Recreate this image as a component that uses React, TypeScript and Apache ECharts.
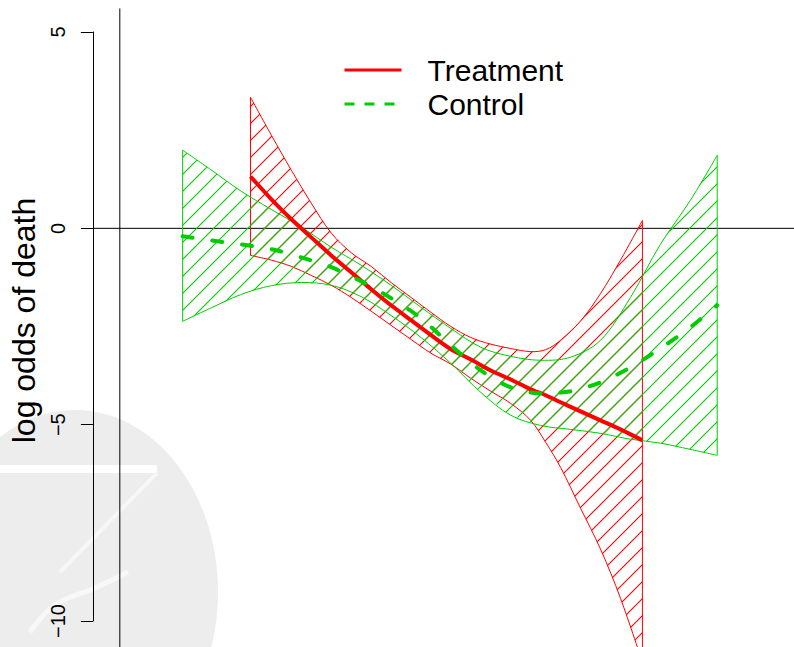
import React, { useEffect, useRef } from "react";
import * as echarts from "echarts";

// ---- data (x in arbitrary covariate units, y in log odds) ----
const treatX = [13.1, 15.2, 17.2, 19.2, 21.2, 23.2, 25.2, 27.2, 29.2, 31.2, 33.2, 35.2, 37.2, 39.2, 41.2, 42.7, 44.2, 46.2, 48.2, 50.2, 52.4];
const treatFit = [1.32, 0.74, 0.23, -0.23, -0.69, -1.12, -1.55, -1.96, -2.34, -2.72, -3.08, -3.34, -3.62, -3.85, -4.10, -4.25, -4.43, -4.66, -4.89, -5.12, -5.40];
const treatUpper = [3.34, 2.37, 1.48, 0.64, -0.12, -0.62, -0.97, -1.38, -1.76, -2.14, -2.50, -2.78, -2.95, -3.06, -3.14, -3.09, -2.85, -2.36, -1.66, -0.81, 0.20];
const treatLower = [-0.69, -0.81, -0.97, -1.20, -1.45, -1.76, -2.11, -2.47, -2.83, -3.18, -3.46, -3.82, -4.15, -4.46, -4.89, -5.45, -6.09, -7.13, -8.17, -9.42, -11.05];

const ctrlX = [6.3, 9.2, 12.2, 15.2, 18.2, 21.2, 24.2, 27.2, 30.2, 33.2, 36.2, 39.2, 42.2, 45.2, 48.2, 51.2, 54.2, 57.2, 59.9];
const ctrlFit = [-0.20, -0.31, -0.41, -0.53, -0.74, -0.99, -1.35, -1.78, -2.29, -2.98, -3.62, -4.05, -4.20, -4.15, -3.92, -3.54, -3.06, -2.52, -1.96];
const ctrlUpper = [1.99, 1.48, 0.94, 0.48, 0.03, -0.48, -0.94, -1.45, -2.01, -2.55, -3.03, -3.26, -3.36, -3.28, -2.85, -1.76, -0.41, 0.71, 1.86];
const ctrlLower = [-2.37, -2.02, -1.68, -1.46, -1.38, -1.45, -1.74, -2.22, -2.78, -3.44, -4.18, -4.76, -5.02, -5.12, -5.22, -5.37, -5.47, -5.63, -5.78];

const yTicks = [-10, -5, 0, 5];
const seriesNames = ["Treatment", "Control"];
const yTitle = "log odds of death";
const xPlotRange = [-2.7, 67.6];
const yPlotRange = [-11.2, 5.6];

const RED = "#FF0000";
const GREEN = "#00CD00";
const FONT = "'Liberation Sans', Arial, Helvetica, sans-serif";

function hatch(color: string) {
  const s = 17;
  const c = document.createElement("canvas");
  c.width = s;
  c.height = s;
  const ctx = c.getContext("2d")!;
  ctx.strokeStyle = color;
  ctx.lineWidth = 1.1;
  ctx.beginPath();
  ctx.moveTo(-2, s + 2);
  ctx.lineTo(s + 2, -2);
  ctx.moveTo(-2, 2);
  ctx.lineTo(2, -2);
  ctx.moveTo(s - 2, s + 2);
  ctx.lineTo(s + 2, s - 2);
  ctx.stroke();
  return { image: c, repeat: "repeat", imageWidth: s, imageHeight: s };
}

function bandSeries(name: string, xs: number[], up: number[], lo: number[], color: string) {
  const pattern = hatch(color);
  return {
    name,
    type: "custom",
    silent: true,
    clip: false,
    data: [[xs[0], up[0]]],
    renderItem: (_p: any, api: any) => {
      const upPts: number[][] = xs.map((x, i) => api.coord([x, up[i]]));
      const loPts: number[][] = xs.map((x, i) => api.coord([x, lo[i]]));
      const poly = upPts.concat(loPts.slice().reverse());
      const n = xs.length - 1;
      const stroke = { stroke: color, lineWidth: 1, fill: null };
      return {
        type: "group",
        children: [
          { type: "polygon", shape: { points: poly }, style: { fill: pattern as any, stroke: null } },
          { type: "polyline", shape: { points: upPts, smooth: 0.35 }, style: stroke },
          { type: "polyline", shape: { points: loPts, smooth: 0.35 }, style: stroke },
          { type: "line", shape: { x1: upPts[0][0], y1: upPts[0][1], x2: loPts[0][0], y2: loPts[0][1] }, style: stroke },
          { type: "line", shape: { x1: upPts[n][0], y1: upPts[n][1], x2: loPts[n][0], y2: loPts[n][1] }, style: stroke },
        ],
      };
    },
  };
}

export default function App() {
  const ref = useRef<HTMLDivElement>(null);
  useEffect(() => {
    if (!ref.current) return;
    const chart = echarts.init(ref.current, null, { renderer: "svg" });
    const option: any = {
      animation: false,
      backgroundColor: "#ffffff",
      textStyle: { fontFamily: FONT },
      graphic: [
        { type: "ellipse", silent: true, z: -10, shape: { cx: 75, cy: 592, rx: 143, ry: 182 }, style: { fill: "#ededed" } },
        { type: "rect", silent: true, z: -9, shape: { x: 0, y: 465, width: 157, height: 8 }, style: { fill: "#ffffff" } },
        { type: "line", silent: true, z: -9, shape: { x1: 157, y1: 473, x2: 60, y2: 572 }, style: { stroke: "#f7f7f7", lineWidth: 4 } },
        { type: "polyline", silent: true, z: -9, shape: { points: [[30, 632], [55, 605], [95, 588], [128, 572]], smooth: 0.4 }, style: { stroke: "#f8f8f8", lineWidth: 5, fill: null } },
      ],
      grid: { left: 91, right: 0, top: 32, bottom: 26 },
      legend: {
        orient: "vertical",
        left: 343,
        top: 53,
        padding: 0,
        itemWidth: 57,
        itemHeight: 14,
        itemGap: 0,
        selectedMode: false,
        textStyle: { fontSize: 30, color: "#000", fontFamily: FONT, lineHeight: 34, padding: [0, 0, 0, 21] },
        data: [
          { name: seriesNames[0], itemStyle: { opacity: 0 }, lineStyle: { width: 3, color: RED, type: "solid" } },
          { name: seriesNames[1], itemStyle: { opacity: 0 }, lineStyle: { width: 3, color: GREEN, type: [10, 10], cap: "butt" } },
        ],
      },
      xAxis: { type: "value", min: xPlotRange[0], max: xPlotRange[1], show: false },
      yAxis: {
        type: "value",
        min: yTicks[0],
        max: yTicks[yTicks.length - 1],
        interval: 5,
        name: yTitle,
        nameLocation: "middle",
        nameRotate: 90,
        nameGap: 42,
        nameTextStyle: { fontSize: 32, color: "#000", fontFamily: FONT, padding: [0, 0, 0, 12] },
        axisLine: { show: true, onZero: false, lineStyle: { color: "#000", width: 1 } },
        axisTick: { show: true, length: 12, lineStyle: { color: "#000", width: 1 } },
        axisLabel: {
          rotate: 90,
          fontSize: 20,
          color: "#000",
          margin: 25,
          fontFamily: FONT,
          formatter: (v: number) => String(v).replace("-", "\u2212"),
        },
        splitLine: { show: false },
      },
      series: [
        bandSeries("band-treatment", treatX, treatUpper, treatLower, RED),
        bandSeries("band-control", ctrlX, ctrlUpper, ctrlLower, GREEN),
        {
          name: "ref-h",
          type: "line",
          silent: true,
          clip: false,
          symbol: "none",
          data: [[xPlotRange[0], 0], [xPlotRange[1], 0]],
          lineStyle: { color: "#000", width: 1 },
          z: 1,
        },
        {
          name: "ref-v",
          type: "line",
          silent: true,
          clip: false,
          symbol: "none",
          data: [[0, yPlotRange[1]], [0, yPlotRange[0]]],
          lineStyle: { color: "#000", width: 1 },
          z: 1,
        },
        {
          name: seriesNames[0],
          type: "line",
          clip: false,
          symbol: "none",
          smooth: 0.3,
          data: treatX.map((x, i) => [x, treatFit[i]]),
          lineStyle: { color: RED, width: 4 },
          itemStyle: { color: RED },
          z: 3,
        },
        {
          name: seriesNames[1],
          type: "line",
          clip: false,
          symbol: "none",
          smooth: 0.3,
          data: ctrlX.map((x, i) => [x, ctrlFit[i]]),
          lineStyle: { color: GREEN, width: 4, type: [10, 20], cap: "round" },
          itemStyle: { color: GREEN },
          z: 4,
        },
      ],
    };
    chart.setOption(option);
    return () => chart.dispose();
  }, []);
  return <div ref={ref} style={{ position: "fixed", left: 0, top: 0, width: 794, height: 647 }} />;
}
